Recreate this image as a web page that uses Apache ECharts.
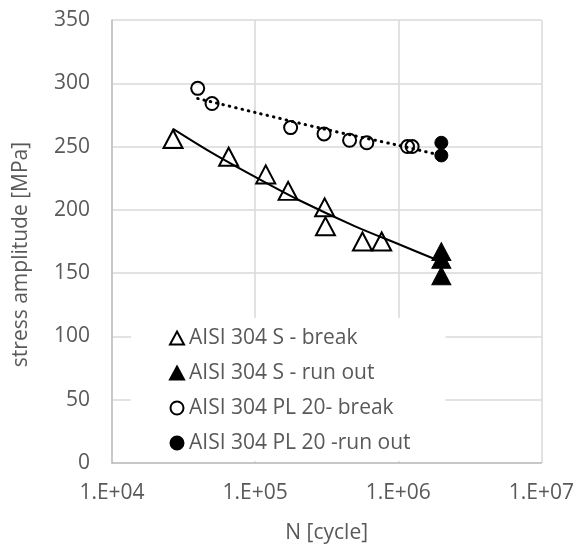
<!DOCTYPE html>
<html>
<head>
<meta charset="utf-8">
<script src="https://cdn.jsdelivr.net/npm/echarts@6/dist/echarts.min.js"></script>
<style>
  html, body { margin: 0; padding: 0; background: #fff; }
  #main { width: 577px; height: 549px; }
</style>
</head>
<body>
<div id="main"></div>
<script>
var chartDom = document.getElementById('main');
var myChart = echarts.init(chartDom);
var option;

// AISI 304 S
var sBreakN = [26700, 65300, 118600, 170000, 306000, 310000, 562000, 766000];
var sBreakS = [256, 242, 228, 215, 202, 187, 175, 175];
var sRunN = [2000000, 2000000, 2000000];
var sRunS = [167, 161, 148];
// AISI 304 PL 20
var plBreakN = [39700, 50000, 177000, 303000, 457000, 603000, 1160000, 1250000];
var plBreakS = [296, 284, 265, 260, 255, 253, 250, 250];
var plRunN = [2000000, 2000000];
var plRunS = [253, 243];
// trend lines
var sTrendN = [26700, 50000, 100000, 200000, 500000, 1000000, 2000000];
var sTrendS = [264, 245, 226, 208, 187, 173, 159];
var plTrendN = [39700, 100000, 300000, 1000000, 2000000];
var plTrendS = [288, 277, 264, 251, 243];

var legendNames = [
  'AISI 304 S - break',
  'AISI 304 S - run out',
  'AISI 304 PL 20- break',
  'AISI 304 PL 20 -run out'
];

function pairs(xs, ys) {
  return xs.map(function (x, i) { return [x, ys[i]]; });
}

var FONT = 'Open Sans';
var GREY = '#595959';

option = {
  backgroundColor: '#fff',
  animation: false,
  textStyle: { fontFamily: FONT },
  grid: { left: 112, right: 33, top: 20, bottom: 84 },
  legend: {
    data: legendNames,
    orient: 'vertical',
    left: 131,
    top: 318,
    backgroundColor: '#fff',
    padding: [8, 35, 6, 38],
    itemWidth: 14,
    itemHeight: 13,
    itemGap: 11,
    itemTextGap: 6,
    itemStyle: { borderWidth: 2 },
    textStyle: { fontFamily: FONT, fontSize: 21, color: GREY, lineHeight: 24 }
  },
  xAxis: {
    type: 'log',
    logBase: 10,
    min: 10000,
    max: 10000000,
    name: 'N [cycle]',
    nameLocation: 'middle',
    nameGap: 60,
    nameTextStyle: { fontSize: 21, color: GREY },
    axisLine: { lineStyle: { color: '#bfbfbf', width: 1.5 } },
    axisTick: { show: false },
    axisLabel: {
      margin: 20,
      fontSize: 21,
      color: GREY,
      formatter: function (v) {
        var e = Math.round(Math.log10(v));
        return '1.E+' + (e < 10 ? '0' + e : e);
      }
    },
    splitLine: { show: true, lineStyle: { color: '#d9d9d9', width: 1.5 } },
    minorTick: { show: false }
  },
  yAxis: {
    type: 'value',
    min: 0,
    max: 350,
    interval: 50,
    name: 'stress amplitude [MPa]',
    nameLocation: 'middle',
    nameGap: 80,
    nameTextStyle: { fontSize: 21, color: GREY, padding: [0, 26, 0, 0] },
    axisLine: { show: true, lineStyle: { color: '#bfbfbf', width: 1.5 } },
    axisTick: { show: false },
    axisLabel: { margin: 22, fontSize: 21, color: GREY },
    splitLine: { show: true, lineStyle: { color: '#d9d9d9', width: 1.5 } }
  },
  series: [
    {
      name: 'S trend',
      type: 'line',
      data: pairs(sTrendN, sTrendS),
      showSymbol: false,
      smooth: 0.3,
      lineStyle: { color: '#000', width: 2 },
      z: 1
    },
    {
      name: 'PL trend',
      type: 'line',
      data: pairs(plTrendN, plTrendS),
      showSymbol: false,
      smooth: 0.3,
      lineStyle: { color: '#000', width: 3, type: [0.5, 6], cap: 'round' },
      z: 1
    },
    {
      name: legendNames[0],
      type: 'scatter',
      symbol: 'triangle',
      symbolSize: [19, 18],
      data: pairs(sBreakN, sBreakS),
      itemStyle: { color: 'rgba(0,0,0,0)', borderColor: '#000', borderWidth: 2, opacity: 1 },
      z: 3
    },
    {
      name: legendNames[1],
      type: 'scatter',
      symbol: 'triangle',
      symbolSize: [19, 18],
      data: pairs(sRunN, sRunS),
      itemStyle: { color: '#000', borderColor: '#000', borderWidth: 1, opacity: 1 },
      z: 3
    },
    {
      name: legendNames[2],
      type: 'scatter',
      symbol: 'circle',
      symbolSize: 13,
      data: pairs(plBreakN, plBreakS),
      itemStyle: { color: 'rgba(0,0,0,0)', borderColor: '#000', borderWidth: 2, opacity: 1 },
      z: 3
    },
    {
      name: legendNames[3],
      type: 'scatter',
      symbol: 'circle',
      symbolSize: 13,
      data: pairs(plRunN, plRunS),
      itemStyle: { color: '#000', borderColor: '#000', borderWidth: 1, opacity: 1 },
      z: 3
    }
  ]
};

option && myChart.setOption(option);
</script>
</body>
</html>
